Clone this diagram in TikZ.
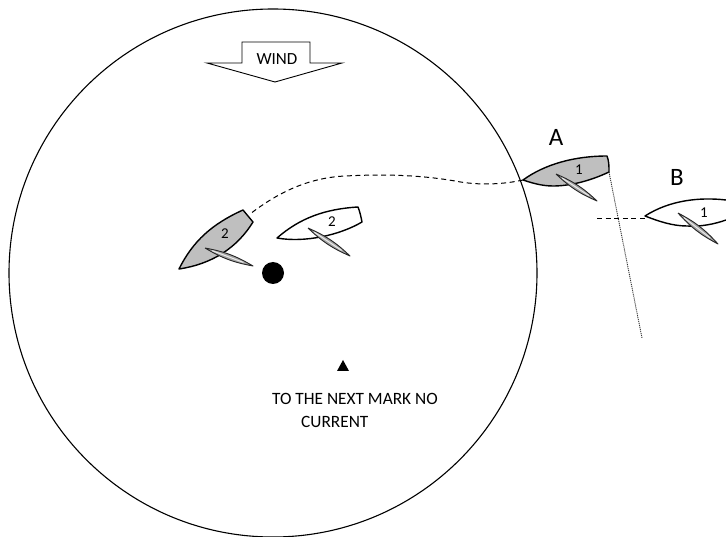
\documentclass[tikz,border=0pt]{standalone}
\usepackage{fontspec}
\setmainfont{Carlito}
\usetikzlibrary{calc}
\tikzset{
  hull/.style={draw=black,line width=1.4pt,line join=round},
  grayhull/.style={hull,fill=black!25},
  whitehull/.style={hull,fill=white},
  sailedge/.style={draw=black!85,line width=0.9pt,fill=black!35,line join=round},
  sailmid/.style={draw=black!8,line width=1pt},
  lbl/.style={inner sep=0pt,font=\fontsize{17}{20}\selectfont},
  digit/.style={inner sep=0pt,font=\fontsize{15}{18}\selectfont},
  big/.style={inner sep=0pt,font=\fontsize{25}{30}\selectfont},
  txt/.style={inner sep=0pt,anchor=west,font=\fontsize{17.3}{20}\selectfont},
  dashline/.style={draw=black,line width=1pt,dash pattern=on 5pt off 3.6pt},
  dotline/.style={draw=black!80,line width=0.9pt,dash pattern=on 1.1pt off 0.9pt},
}
\newcommand{\sailshape}[2]{%
  \draw[sailedge] (#1) to[bend left=10] (#2) to[bend left=10] (#1);
  \draw[sailmid] ($(#1)!0.15!(#2)$) -- ($(#1)!0.8!(#2)$);
}
\begin{document}
\begin{tikzpicture}[x=1pt,y=-1pt]
\useasboundingbox (0,0) rectangle (726,537);
\node[draw=black,line width=1.1pt,circle,minimum size=528pt,inner sep=0pt] (course) at (273,273) {};
% wind arrow
\draw[draw=black,line width=0.9pt,fill=white,line join=miter] (207,63) -- (242,63) -- (242,42) -- (310,42) -- (310,63) -- (342,63) -- (275,82) -- cycle;
\node[lbl] (wind) at (277,59) {WIND};
% gray boat 2
\draw[grayhull] (179,269) .. controls (193,241) and (212,224) .. (243,210) -- (253,222)
  .. controls (237,248) and (212,264) .. (179,269) -- cycle;
\coordinate (g2s) at (205,248); \coordinate (g2e) at (253,266);
\sailshape{g2s}{g2e}
\node[digit] (g2) at (225,234) {2};
\coordinate (g2stern) at (250,214);
% white boat 2
\draw[whitehull] (277,238) .. controls (300,218) and (325,209) .. (358,207) .. controls (360,212) and (361,217) .. (362,222)
  .. controls (340,235) and (305,243) .. (277,238) -- cycle;
\coordinate (w2s) at (308,228); \coordinate (w2e) at (350,256);
\sailshape{w2s}{w2e}
\node[digit] (w2) at (332,222) {2};
% mark
\node[fill=black,circle,minimum size=22pt,inner sep=0pt] (mark) at (273,273) {};
\fill[black] (337,371) -- (343,360) -- (349,371) -- cycle;
\node[txt] (t1) at (272,399) {TO THE NEXT MARK NO};
\node[txt] (t2) at (301,422) {CURRENT};
% boat A
\draw[grayhull] (523,180) .. controls (545,164) and (575,156) .. (607,156) .. controls (609,161) and (609,166) .. (609,172)
  .. controls (590,181) and (570,186) .. (553,186) .. controls (542,186) and (532,183) .. (523,180) -- cycle;
\coordinate (as) at (556,174); \coordinate (ae) at (597,201);
\sailshape{as}{ae}
\node[digit] (a1) at (579,170) {1};
\node[big] (A) at (556,137) {A};
\coordinate (atip) at (523,180);
\coordinate (astern) at (609,172);
\coordinate (dotend) at (642,338);
\draw[dotline] (astern) -- (dotend);
\draw[dashline] (atip) .. controls (505,184) and (480,186) .. (455,181)
  .. controls (420,175) and (385,174) .. (345,176)
  .. controls (305,178) and (275,195) .. (g2stern);
% boat B
\draw[whitehull] (726,200) .. controls (700,197) and (670,200) .. (645,216)
  .. controls (658,221) and (672,226) .. (687,226) .. controls (700,227) and (715,224) .. (726,220);
\coordinate (bs) at (678,213); \coordinate (be) at (718,244);
\sailshape{bs}{be}
\node[digit] (b1) at (704,213) {1};
\node[big] (B) at (677,177) {B};
\coordinate (btip) at (645,219);
\coordinate (bdash) at (597,219);
\draw[dashline] (bdash) -- (btip);
\end{tikzpicture}
\end{document}
